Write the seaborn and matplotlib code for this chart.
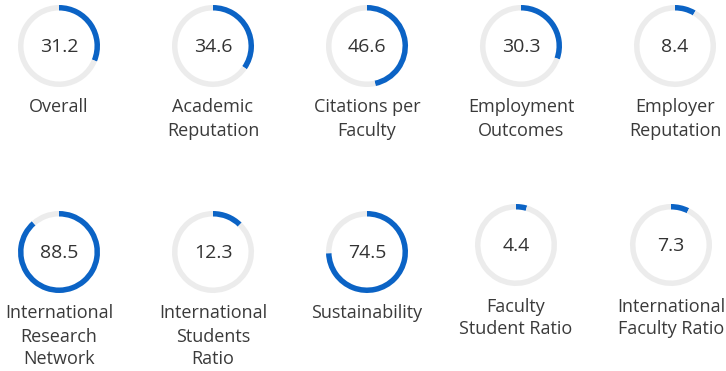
import matplotlib
matplotlib.use("Agg")
import matplotlib.pyplot as plt
import seaborn as sns

# Score categories and their values (out of 100)
categories = [
    "Overall", "Academic\nReputation", "Citations per\nFaculty",
    "Employment\nOutcomes", "Employer\nReputation",
    "International\nResearch\nNetwork", "International\nStudents\nRatio",
    "Sustainability", "Faculty\nStudent Ratio", "International\nFaculty Ratio",
]
scores = [31.2, 34.6, 46.6, 30.3, 8.4, 88.5, 12.3, 74.5, 4.4, 7.3]
max_score = 100

# Grid placement of each ring (pixel centres, origin top-left)
centre_x = [59, 213, 367, 521, 675, 59, 213, 367, 516, 671]
centre_y = [46, 46, 46, 46, 46, 252, 252, 252, 245, 245]

W, H = 726, 371
RADIUS = 41
RING = 5.5
LABEL_GAP = 61.5
LINE_STEP = 23
BLUE = "#0b63c5"
GREY = "#ececec"
TEXT = "#333333"

sns.set_theme(style="white")
plt.rcParams["font.family"] = ["Open Sans", "DejaVu Sans"]

fig = plt.figure(figsize=(W / 100, H / 100), dpi=100)
ax = fig.add_axes([0, 0, 1, 1])

for label, value, px, py in zip(categories, scores, centre_x, centre_y):
    cy = H - py
    ax.pie(
        [value, max_score - value],
        colors=[BLUE, GREY],
        startangle=90,
        counterclock=False,
        radius=RADIUS,
        center=(px, cy),
        wedgeprops=dict(width=RING, linewidth=0),
    )
    ax.text(px, cy - 1, f"{value}", ha="center", va="center",
            fontsize=14, color=TEXT, fontweight="medium")
    for i, line in enumerate(label.split("\n")):
        ax.text(px, cy - LABEL_GAP - i * LINE_STEP, line, ha="center",
                va="center", fontsize=13, color="#3a3a3a")

ax.set_xlim(0, W)
ax.set_ylim(0, H)
ax.set_aspect("equal")
ax.axis("off")

fig.savefig("out.png", dpi=100, facecolor="white")
